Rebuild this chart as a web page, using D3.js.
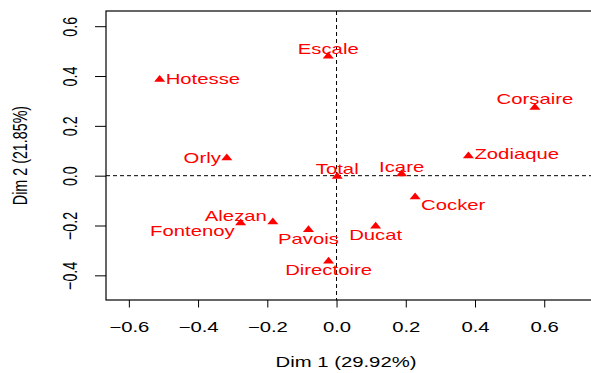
<!DOCTYPE html>
<html>
<head>
<meta charset="utf-8">
<script src="https://cdn.jsdelivr.net/npm/d3@7"></script>
<style>
  html, body { margin: 0; padding: 0; background: #fff; }
  svg { display: block; }
  text { font-family: "Liberation Sans", Arial, Helvetica, sans-serif; }
</style>
</head>
<body>
<svg id="chart" width="591" height="373"></svg>
<script>
// Correspondence analysis: row profiles on the first factorial plane
const names = ["Hotesse", "Escale", "Corsaire", "Zodiaque", "Icare", "Cocker", "Total",
               "Orly", "Alezan", "Fontenoy", "Pavois", "Ducat", "Directoire"];
const dim1 = [-0.511, -0.024, 0.573, 0.381, 0.188, 0.227, 0.002,
              -0.317, -0.184, -0.277, -0.081, 0.113, -0.023];
const dim2 = [0.386, 0.479, 0.274, 0.079, 0.007, -0.086, -0.003,
              0.071, -0.186, -0.190, -0.217, -0.203, -0.343];

const xTicks = [-0.6, -0.4, -0.2, 0.0, 0.2, 0.4, 0.6];
const yTicks = [-0.4, -0.2, 0.0, 0.2, 0.4, 0.6];
const xTitle = "Dim 1 (29.92%)";
const yTitle = "Dim 2 (21.85%)";

// Where each label sits relative to its point: side and vertical nudge (px)
const labelSide = ["right", "above", "above", "right", "above", "right", "above",
                   "left", "left", "left", "below", "below", "below"];
const labelNudge = [0, 0, -1, -1, 0, 8.5, 0, 0.5, -5.5, 8.5, 0, 0, 0];

const W = 591, H = 373;
const SX = 1.42;            // horizontal stretch of the drawing
const FONT = 14.3;
const RED = "#ff0000";

const plot = { left: 106, right: 592, top: 11, bottom: 300 };
const xlim = [-0.666, 0.738];
const ylim = [-0.499, 0.661];

const x = d3.scaleLinear().domain(xlim).range([plot.left, plot.right]);
const y = d3.scaleLinear().domain(ylim).range([plot.bottom, plot.top]);

const svg = d3.select("#chart");
svg.append("rect").attr("width", W).attr("height", H).attr("fill", "#fff");

const fmt = d3.format(".1f");

// x axis
const gx = svg.append("g")
  .attr("transform", `translate(0,${plot.bottom})`)
  .call(d3.axisBottom(x).tickValues(xTicks).tickFormat(fmt).tickSize(7.5).tickSizeOuter(0));
gx.select(".domain").remove();
gx.selectAll(".tick line").attr("stroke", "#000").attr("stroke-width", 1);
gx.selectAll(".tick text")
  .attr("y", 0).attr("dy", 0)
  .attr("transform", `translate(0,32) scale(${SX},1)`)
  .attr("text-anchor", "middle")
  .attr("font-size", FONT).attr("fill", "#000")
  .attr("font-family", "Liberation Sans, Arial, sans-serif");

// y axis
const gy = svg.append("g")
  .attr("transform", `translate(${plot.left},0)`)
  .call(d3.axisLeft(y).tickValues(yTicks).tickFormat(fmt).tickSize(11).tickSizeOuter(0));
gy.select(".domain").remove();
gy.selectAll(".tick line").attr("stroke", "#000").attr("stroke-width", 1);
gy.selectAll(".tick text")
  .attr("x", 0).attr("dy", 0)
  .attr("transform", `translate(-28.7,0) scale(${SX},1) rotate(-90)`)
  .attr("text-anchor", "middle")
  .attr("font-size", FONT).attr("fill", "#000")
  .attr("font-family", "Liberation Sans, Arial, sans-serif");

// reference lines through the origin
svg.append("line")
  .attr("x1", plot.left).attr("x2", plot.right)
  .attr("y1", y(0)).attr("y2", y(0))
  .attr("stroke", "#000").attr("stroke-dasharray", "4,3");
svg.append("line")
  .attr("x1", x(0)).attr("x2", x(0))
  .attr("y1", plot.top).attr("y2", plot.bottom)
  .attr("stroke", "#000").attr("stroke-dasharray", "4,3");

// plot frame
svg.append("rect")
  .attr("x", plot.left).attr("y", plot.top)
  .attr("width", plot.right - plot.left).attr("height", plot.bottom - plot.top)
  .attr("fill", "none").attr("stroke", "#000").attr("stroke-width", 1.2);

// axis titles
svg.append("text")
  .attr("transform", `translate(${(plot.left + 586) / 2},367) scale(${SX},1)`)
  .attr("text-anchor", "middle").attr("font-size", FONT).attr("fill", "#000")
  .text(xTitle);
svg.append("text")
  .attr("transform", `translate(26.7,${(plot.top + plot.bottom) / 2}) scale(${SX},1) rotate(-90)`)
  .attr("text-anchor", "middle").attr("font-size", FONT).attr("fill", "#000")
  .text(yTitle);

// filled triangles centred on each point
const r = 4.5;
const tri = `M0,${-r} L${0.866 * r * SX},${r / 2} L${-0.866 * r * SX},${r / 2} Z`;

const pts = names.map((n, i) => ({ name: n, d1: dim1[i], d2: dim2[i],
                                    side: labelSide[i], nudge: labelNudge[i] }));

svg.append("g").selectAll("path")
  .data(pts).join("path")
  .attr("d", tri)
  .attr("transform", d => `translate(${x(d.d1)},${y(d.d2)})`)
  .attr("fill", RED);

// point labels
const place = {
  above: { dx: 0,  dy: -2.4, anchor: "middle" },
  below: { dx: 0,  dy: 14.2, anchor: "middle" },
  right: { dx: 6,  dy: 4,    anchor: "start" },
  left:  { dx: -6, dy: 4.5,  anchor: "end" }
};
svg.append("g").selectAll("text")
  .data(pts).join("text")
  .attr("transform", d => {
    const p = place[d.side];
    return `translate(${x(d.d1) + p.dx},${y(d.d2) + p.dy + d.nudge}) scale(${SX},1)`;
  })
  .attr("text-anchor", d => place[d.side].anchor)
  .attr("font-size", FONT)
  .attr("fill", RED)
  .text(d => d.name);
</script>
</body>
</html>
